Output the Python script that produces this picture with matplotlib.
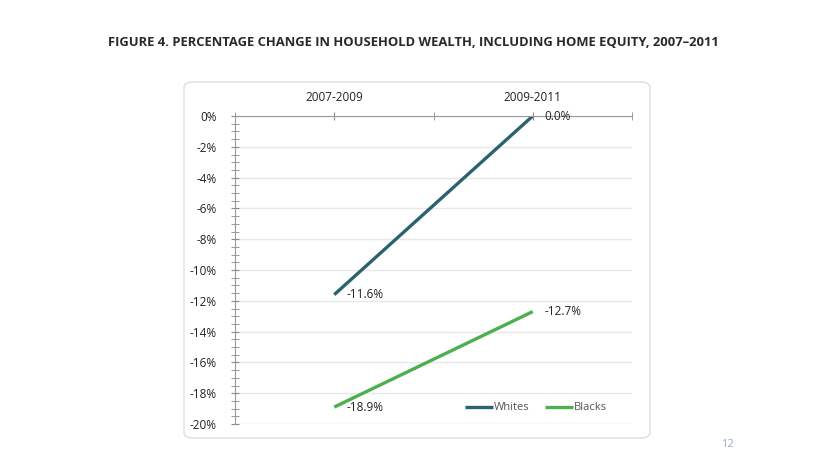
import matplotlib
matplotlib.use("Agg")
import matplotlib.pyplot as plt
from matplotlib.patches import FancyBboxPatch
from matplotlib.ticker import MultipleLocator, FuncFormatter

periods = ["2007-2009", "2009-2011"]
whites = [-11.6, 0.0]
blacks = [-18.9, -12.7]
series_names = ["Whites", "Blacks"]
colors = ["#2b6270", "#4caf50"]
title = "FIGURE 4. PERCENTAGE CHANGE IN HOUSEHOLD WEALTH, INCLUDING HOME EQUITY, 2007\u20132011"

W, H = 827, 465
fig = plt.figure(figsize=(W / 100, H / 100), dpi=100)
plt.rcParams['font.family'] = ['Open Sans', 'DejaVu Sans']

def fx(px): return px / W
def fy(py): return 1 - py / H

panel = FancyBboxPatch((fx(184), fy(438)), fx(650) - fx(184), fy(82) - fy(438),
                       boxstyle="round,pad=0,rounding_size=0.012",
                       transform=fig.transFigure, facecolor="white",
                       edgecolor="#dddddd", linewidth=1.0, zorder=-5)
fig.patches.append(panel)

fig.text(0.5, fy(42), title, ha="center", va="center", fontsize=9.4,
         fontweight="bold", color="#2a2a2a")

ax = fig.add_axes([fx(235), fy(424), fx(632) - fx(235), fy(116) - fy(424)])
ax.set_zorder(5)
ax.set_facecolor("none")
x = range(len(periods))
for vals, name, c in zip([whites, blacks], series_names, colors):
    ax.plot(list(x), vals, color=c, linewidth=2.4, label=name, solid_capstyle="butt")
    for xi, v in zip(x, vals):
        ax.text(xi + 0.06, v, f"{v:.1f}%", ha="left", va="center", fontsize=8.5,
                color="#222222")

ax.set_xlim(-0.5, 1.5)
ax.set_ylim(-20, 0)
ax.yaxis.set_major_locator(MultipleLocator(2))
ax.yaxis.set_minor_locator(MultipleLocator(0.5))
ax.yaxis.set_major_formatter(FuncFormatter(lambda v, p: f"{v:.0f}%"))
ax.grid(axis="y", which="major", color="#e8e8e8", linewidth=1.0)
ax.set_axisbelow(True)

ax.xaxis.tick_top()
ax.set_xticks(list(x))
ax.set_xticklabels(periods)
ax.set_xticks([-0.5, 0.5, 1.5], minor=True)
ax.tick_params(axis="x", which="both", direction="inout", length=6, color="#888888",
               labelsize=8.5, pad=6, labelcolor="#222222")
ax.tick_params(axis="y", which="both", direction="inout", length=6, color="#888888",
               labelsize=8.5, pad=10, labelcolor="#222222")

for s in ["right", "bottom"]:
    ax.spines[s].set_visible(False)
ax.spines["top"].set_color("#999999")
ax.spines["left"].set_color("#999999")

ax.legend(loc="lower right", bbox_to_anchor=(0.948, 0.02), borderaxespad=0,
          ncol=2, frameon=False, fontsize=8, handlelength=2.5, handletextpad=0.1,
          columnspacing=1.35, labelcolor="#555555")

fig.text(fx(727), fy(450), "12", fontsize=8, color="#9aaac8", ha="center", va="bottom")

fig.savefig("out.png", dpi=100)
